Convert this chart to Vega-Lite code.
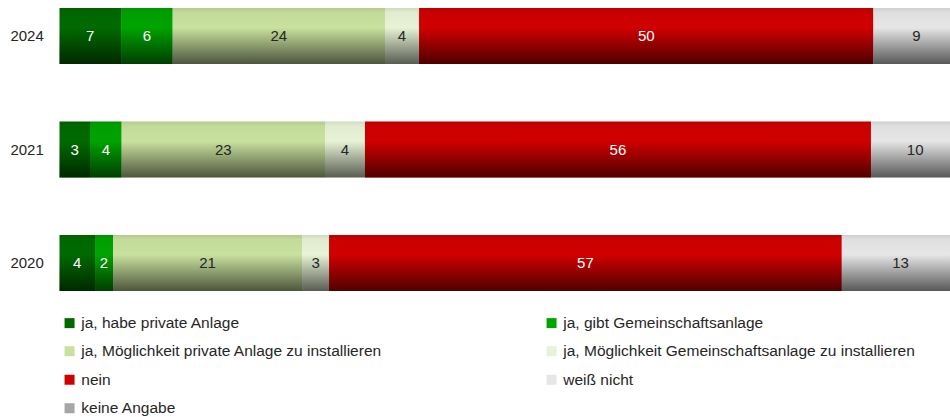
{
  "$schema": "https://vega.github.io/schema/vega-lite/v6.json",
  "autosize": {"type": "none"},
  "padding": {"left": 59.3, "top": 0, "right": 0, "bottom": 118},
  "width": 890.7,
  "height": 299,
  "background": "white",
  "config": {
    "view": {"stroke": null},
    "font": "Liberation Sans",
    "text": {"font": "Liberation Sans"}
  },
  "data": {
    "values": [
      {"year": "2024", "cat": "ja, habe private Anlage", "value": 6.86, "label": "7"},
      {"year": "2024", "cat": "ja, gibt Gemeinschaftsanlage", "value": 5.74, "label": "6"},
      {"year": "2024", "cat": "ja, Möglichkeit private Anlage zu installieren", "value": 23.59, "label": "24"},
      {"year": "2024", "cat": "ja, Möglichkeit Gemeinschaftsanlage zu installieren", "value": 3.78, "label": "4"},
      {"year": "2024", "cat": "nein", "value": 50.48, "label": "50"},
      {"year": "2024", "cat": "weiß nicht", "value": 9.55, "label": "9"},
      {"year": "2021", "cat": "ja, habe private Anlage", "value": 3.41, "label": "3"},
      {"year": "2021", "cat": "ja, gibt Gemeinschaftsanlage", "value": 3.52, "label": "4"},
      {"year": "2021", "cat": "ja, Möglichkeit private Anlage zu installieren", "value": 22.59, "label": "23"},
      {"year": "2021", "cat": "ja, Möglichkeit Gemeinschaftsanlage zu installieren", "value": 4.44, "label": "4"},
      {"year": "2021", "cat": "nein", "value": 56.22, "label": "56"},
      {"year": "2021", "cat": "weiß nicht", "value": 9.82, "label": "10"},
      {"year": "2020", "cat": "ja, habe private Anlage", "value": 3.97, "label": "4"},
      {"year": "2020", "cat": "ja, gibt Gemeinschaftsanlage", "value": 2.0, "label": "2"},
      {"year": "2020", "cat": "ja, Möglichkeit private Anlage zu installieren", "value": 21.0, "label": "21"},
      {"year": "2020", "cat": "ja, Möglichkeit Gemeinschaftsanlage zu installieren", "value": 3.0, "label": "3"},
      {"year": "2020", "cat": "nein", "value": 56.97, "label": "57"},
      {"year": "2020", "cat": "weiß nicht", "value": 13.06, "label": "13"}
    ]
  },
  "transform": [
    {"stack": "value", "groupby": ["year"], "as": ["x0", "x1"]},
    {"calculate": "(datum.x0 + datum.x1) / 2", "as": "xmid"}
  ],
  "encoding": {
    "y": {
      "field": "year",
      "type": "nominal",
      "sort": ["2024", "2021", "2020"],
      "scale": {"paddingInner": 0.507, "paddingOuter": 0.0705},
      "axis": {
        "title": null,
        "domain": false,
        "ticks": false,
        "labelFontSize": 15,
        "labelColor": "#262626",
        "labelPadding": 16,
        "labelFont": "Liberation Sans"
      }
    }
  },
  "layer": [
    {
      "mark": {"type": "bar", "clip": true, "cornerRadius": 0},
      "encoding": {
        "x": {
          "field": "x0",
          "type": "quantitative",
          "scale": {"domain": [0, 98.96], "nice": false, "zero": true},
          "axis": null
        },
        "x2": {"field": "x1"},
        "color": {
          "field": "cat",
          "type": "nominal",
          "scale": {
            "domain": [
              "ja, habe private Anlage",
              "ja, gibt Gemeinschaftsanlage",
              "ja, Möglichkeit private Anlage zu installieren",
              "ja, Möglichkeit Gemeinschaftsanlage zu installieren",
              "nein",
              "weiß nicht",
              "keine Angabe"
            ],
            "range": ["#006a00", "#00a300", "#c9e19e", "#e8f3d6", "#d00000", "#e6e6e6", "#a6a6a6"]
          },
          "legend": {
            "title": null,
            "orient": "none",
            "legendX": 2.5,
            "legendY": 315,
            "direction": "horizontal",
            "columns": 2,
            "columnPadding": 161,
            "rowPadding": 11.5,
            "symbolType": "square",
            "symbolSize": 100,
            "symbolStrokeWidth": 0,
            "symbolOffset": 0,
            "labelOffset": 4,
            "labelFontSize": 15.5,
            "labelFont": "Liberation Sans",
            "labelColor": "#262626",
            "labelLimit": 600
          }
        }
      }
    },
    {
      "mark": {
        "type": "bar",
        "clip": true,
        "color": {
          "gradient": "linear",
          "x1": 0, "y1": 0, "x2": 0, "y2": 1,
          "stops": [
            {"offset": 0, "color": "rgba(0,0,0,0.1)"},
            {"offset": 0.08, "color": "rgba(0,0,0,0.03)"},
            {"offset": 0.35, "color": "rgba(0,0,0,0)"},
            {"offset": 1, "color": "rgba(0,0,0,0.62)"}
          ]
        }
      },
      "encoding": {
        "x": {"field": "x0", "type": "quantitative"},
        "x2": {"field": "x1"}
      }
    },
    {
      "transform": [{"filter": "datum.cat == 'ja, habe private Anlage' || datum.cat == 'ja, gibt Gemeinschaftsanlage' || datum.cat == 'nein'"}],
      "mark": {"type": "text", "fontSize": 15, "color": "white", "baseline": "middle", "align": "center"},
      "encoding": {
        "x": {"field": "xmid", "type": "quantitative"},
        "text": {"field": "label"}
      }
    },
    {
      "transform": [{"filter": "datum.cat != 'ja, habe private Anlage' && datum.cat != 'ja, gibt Gemeinschaftsanlage' && datum.cat != 'nein'"}],
      "mark": {"type": "text", "fontSize": 15, "color": "#262626", "baseline": "middle", "align": "center"},
      "encoding": {
        "x": {"field": "xmid", "type": "quantitative"},
        "text": {"field": "label"}
      }
    }
  ]
}
